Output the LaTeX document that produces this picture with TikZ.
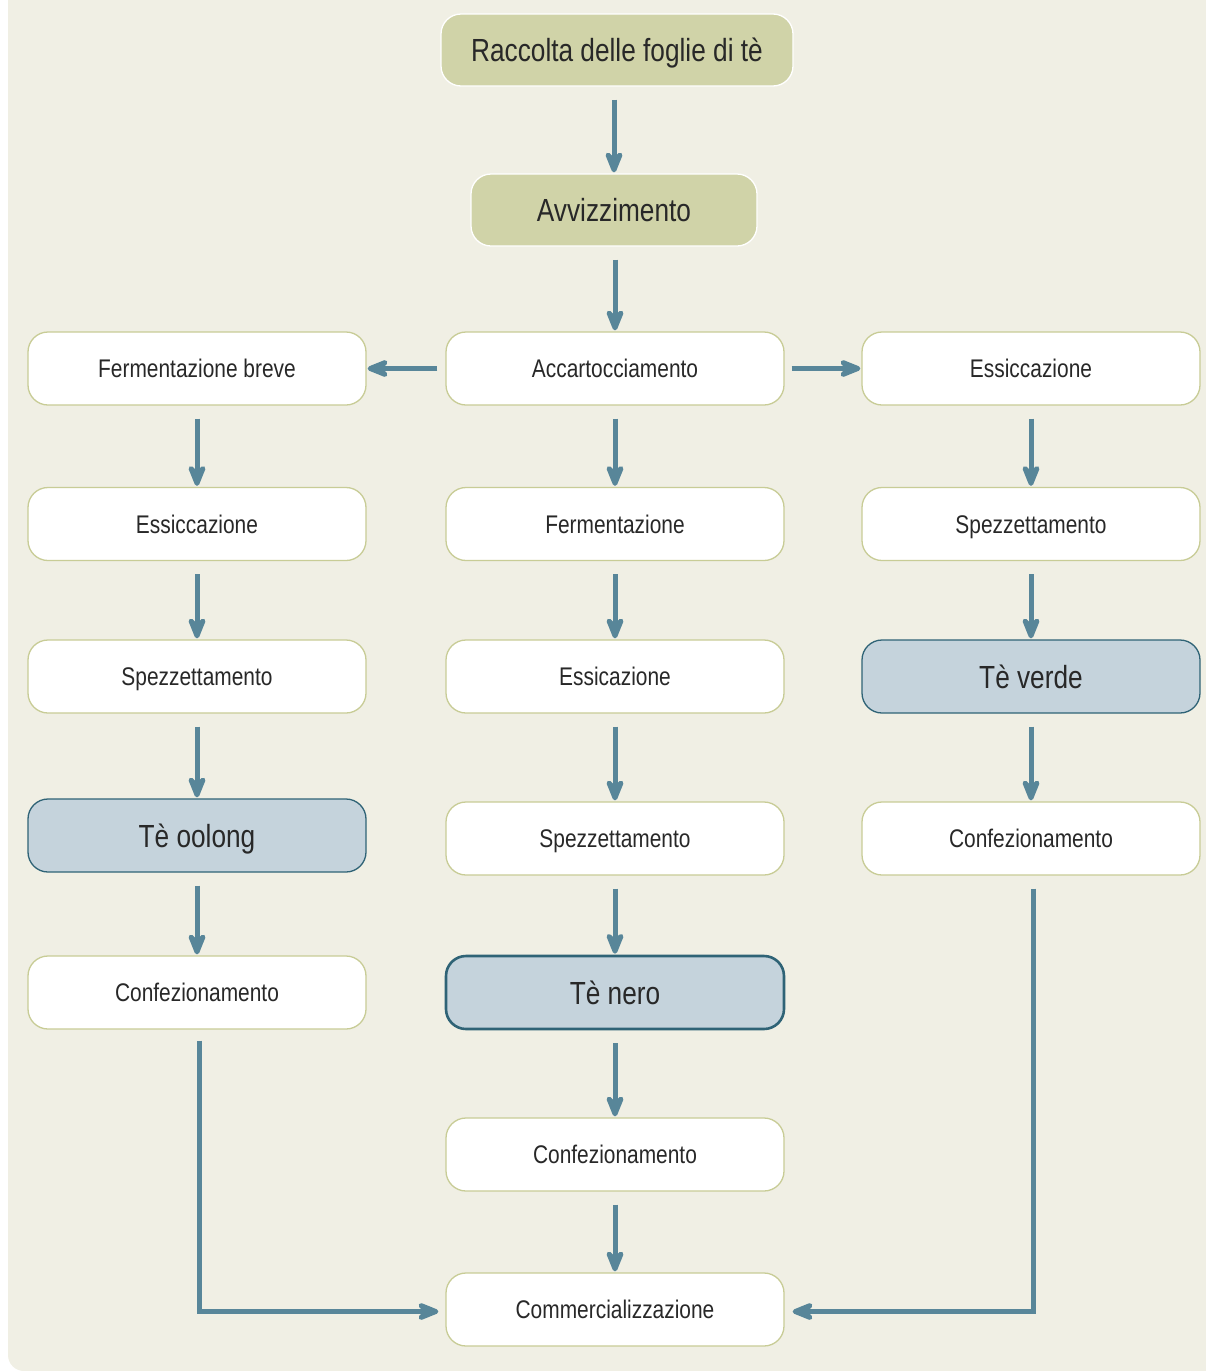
\documentclass[tikz,border=0pt]{standalone}
\usepackage{fontspec}
\setmainfont{Liberation Sans}[FakeStretch=0.82]
\usetikzlibrary{arrows.meta,positioning}
\definecolor{bgc}{RGB}{240,239,228}
\definecolor{olivefill}{RGB}{208,211,168}
\definecolor{olivedraw}{RGB}{200,204,150}
\definecolor{hlfill}{RGB}{197,211,220}
\definecolor{hldraw}{RGB}{47,99,118}
\definecolor{arrc}{RGB}{88,134,153}
\definecolor{txt}{RGB}{40,40,40}
\tikzset{
  box/.style={draw=olivedraw, fill=white, line width=1.3pt, rounded corners=20pt,
    minimum width=338pt, minimum height=73pt, inner sep=0pt, text=txt,
    text height=22pt, text depth=3.6pt,
    font=\fontsize{25.5}{30}\selectfont},
  big/.style={text height=28pt, text depth=5pt, font=\fontsize{32}{36}\selectfont},
  topbox/.style={draw=white, fill=olivefill, line width=1.3pt, rounded corners=20pt,
    minimum height=72pt, inner sep=0pt, text=txt, big},
  hlbox/.style={box, draw=hldraw, fill=hlfill, big},
  arr/.style={draw=arrc, line width=5pt,
    -{Stealth[length=30pt,width=24pt,inset=11pt,round]}}
}
\begin{document}
\begin{tikzpicture}[x=1pt,y=-1pt]
\useasboundingbox (0,0) rectangle (1206,1371);
\fill[bgc, rounded corners=16pt] (8,-40) rectangle (1260,1371);

\node[topbox, minimum width=352pt] (rac) at (617,50) {Raccolta delle foglie di tè};
\node[topbox, minimum width=286pt] (avv) at (614,210) {Avvizzimento};

\node[box] (acc) at (615,368.5) {Accartocciamento};
\node[box] (fb) at (197,368.5) {Fermentazione breve};
\node[box] (es3) at (1031,368.5) {Essiccazione};

\node[box] (es1) at (197,524) {Essiccazione};
\node[box] (fer) at (615,524) {Fermentazione};
\node[box] (sp3) at (1031,524) {Spezzettamento};

\node[box] (sp1) at (197,676.5) {Spezzettamento};
\node[box] (es2) at (615,676.5) {Essicazione};
\node[hlbox, line width=1.3pt] (verde) at (1031,676.5) {Tè verde};

\node[hlbox, line width=1.3pt] (oolong) at (197,835.5) {Tè oolong};
\node[box] (sp2) at (615,838.5) {Spezzettamento};
\node[box] (cf3) at (1031,838.5) {Confezionamento};

\node[box] (cf1) at (197,992.5) {Confezionamento};
\node[hlbox, line width=2.6pt] (nero) at (615,992.5) {Tè nero};

\node[box] (cf2) at (615,1154.5) {Confezionamento};
\node[box] (com) at (615,1309.5) {Commercializzazione};

% vertical arrows
\foreach \a/\b in {rac/avv, avv/acc, fb/es1, es1/sp1, sp1/oolong, oolong/cf1,
  acc/fer, fer/es2, es2/sp2, sp2/nero, nero/cf2, cf2/com,
  es3/sp3, sp3/verde, verde/cf3}
  \draw[arr] ([yshift=-13pt]\b.north |- \a.south) -- ([yshift=1pt]\b.north);

% horizontal arrows
\draw[arr] ([xshift=-8pt]acc.west) -- ([xshift=1pt]fb.east);
\draw[arr] ([xshift=7pt]acc.east) -- ([xshift=-1pt]es3.west);

% elbows
\draw[arr] ([xshift=2pt,yshift=-11pt]cf1.south) |- ([xshift=-7pt,yshift=-2pt]com.west);
\draw[arr] ([xshift=2pt,yshift=-13pt]cf3.south) |- ([xshift=8pt,yshift=-2pt]com.east);
\end{tikzpicture}
\end{document}
